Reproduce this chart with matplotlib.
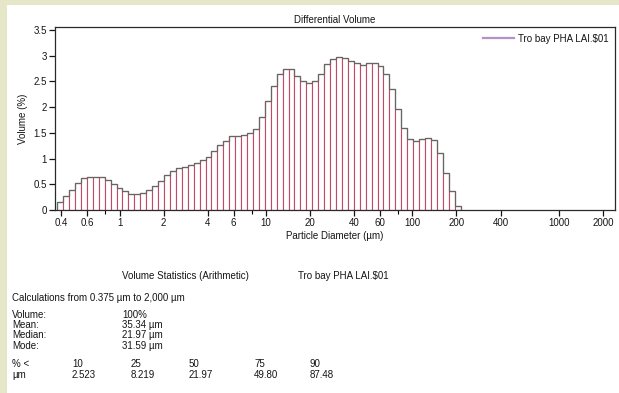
import numpy as np
import matplotlib
matplotlib.use("Agg")
import matplotlib.pyplot as plt
from matplotlib.lines import Line2D
from matplotlib.patches import Rectangle

plt.rcParams['font.family'] = ['Liberation Sans', 'DejaVu Sans']

# Instrument channel grid: 92 log-spaced channels from 0.375 um to 2000 um
d_min, d_max, n_channels = 0.375, 2000.0, 92

# Differential volume (%) per channel, first 68 channels (rest are zero)
volume_pct = [
    0.16, 0.28, 0.39, 0.53, 0.62, 0.65, 0.65, 0.64, 0.58, 0.50,
    0.42, 0.36, 0.32, 0.31, 0.34, 0.39, 0.47, 0.57, 0.68, 0.75,
    0.81, 0.84, 0.88, 0.91, 0.97, 1.04, 1.15, 1.26, 1.35, 1.43,
    1.44, 1.46, 1.50, 1.57, 1.80, 2.12, 2.41, 2.64, 2.74, 2.74,
    2.60, 2.50, 2.47, 2.50, 2.64, 2.84, 2.94, 2.97, 2.95, 2.90,
    2.86, 2.83, 2.85, 2.86, 2.80, 2.64, 2.35, 1.97, 1.60, 1.38,
    1.34, 1.38, 1.41, 1.36, 1.10, 0.72, 0.37, 0.08,
]

x_ticks = [0.4, 0.6, 1, 2, 4, 6, 10, 20, 40, 60, 100, 200, 400, 1000, 2000]
x_tick_labels = ["0.4", "0.6", "1", "2", "4", "6", "10", "20", "40", "60",
                 "100", "200", "400", "1000", "2000"]
x_minor = [0.8, 8, 80]
y_ticks = [0, 0.5, 1, 1.5, 2, 2.5, 3, 3.5]
y_tick_labels = ["0", "0.5", "1", "1.5", "2", "2.5", "3", "3.5"]

sample_name = "Tro bay PHA LAI.$01"
pct_levels = ["10", "25", "50", "75", "90"]
pct_sizes = ["2.523", "8.219", "21.97", "49.80", "87.48"]
stat_names = ["Volume:", "Mean:", "Median:", "Mode:"]
stat_values = ["100%", "35.34 µm", "21.97 µm", "31.59 µm"]

vals = np.array(volume_pct)
k = np.arange(len(vals) + 1)
edges = d_min * (d_max / d_min) ** (k / n_channels)

W, H = 619, 393
INK = "#151515"
fig = plt.figure(figsize=(W / 100, H / 100), dpi=100)
fig.patch.set_facecolor("white")

# paper margin strips
fig.add_artist(Rectangle((0, 0), 7 / W, 1, transform=fig.transFigure,
                         facecolor="#e6e7c9", edgecolor="none", zorder=0))
fig.add_artist(Rectangle((0, 1 - 5 / H), 1, 5 / H, transform=fig.transFigure,
                         facecolor="#e6e7c9", edgecolor="none", zorder=0))

ax_l, ax_r, ax_t, ax_b = 55, 615, 27, 210
ax = fig.add_axes([ax_l / W, 1 - ax_b / H, (ax_r - ax_l) / W, (ax_b - ax_t) / H])

ax.bar(edges[:-1], vals, width=np.diff(edges), align="edge",
       facecolor="white", edgecolor="#c24a66", linewidth=0.8, zorder=2)
ax.stairs(vals, edges, color="#666666", linewidth=0.9, zorder=3)

ax.set_xscale("log")
ax.set_xlim(0.362, 2420)
ax.set_ylim(0, 3.56)

ax.set_xticks(x_ticks)
ax.set_xticklabels(x_tick_labels)
ax.set_xticks(x_minor, minor=True)
ax.xaxis.set_minor_formatter(plt.NullFormatter())
ax.set_yticks(y_ticks)
ax.set_yticklabels(y_tick_labels)

ax.tick_params(axis="both", which="major", direction="out", length=4,
               width=0.9, labelsize=7, colors=INK, pad=2)
ax.tick_params(axis="x", which="minor", direction="out", length=3, width=0.8)

for s in ax.spines.values():
    s.set_color("#2a2a2a")
    s.set_linewidth(0.9)

ax.set_xlabel("Particle Diameter (µm)", fontsize=7, color=INK, labelpad=2)
ax.set_ylabel("Volume (%)", fontsize=7, color=INK, labelpad=4)
ax.set_title("Differential Volume", fontsize=7, color=INK, pad=3)

handle = Line2D([], [], color="#b690c8", linewidth=1.6)
ax.legend([handle], [sample_name], loc="upper right", frameon=False,
          fontsize=7, handlelength=3.2, handletextpad=0.4,
          borderaxespad=0.3, labelcolor=INK)

# statistics block
def ftext(x, y, s):
    fig.text(x / W, 1 - y / H, s, fontsize=7, color=INK,
             ha="left", va="center")

ftext(122, 276, "Volume Statistics (Arithmetic)")
ftext(298, 276, sample_name)
ftext(12, 298, "Calculations from 0.375 µm to 2,000 µm")

row_y = [315, 325, 335, 346]
for y, name, value in zip(row_y, stat_names, stat_values):
    ftext(12, y, name)
    ftext(122, y, value)

ftext(12, 364, "% <")
ftext(12, 375, "µm")
col_x = [72, 131, 189, 254, 310]
for x, lvl, size in zip(col_x, pct_levels, pct_sizes):
    ftext(x, 364, lvl)
    ftext(x, 375, size)

fig.savefig("out.png", dpi=100, facecolor=fig.get_facecolor())
